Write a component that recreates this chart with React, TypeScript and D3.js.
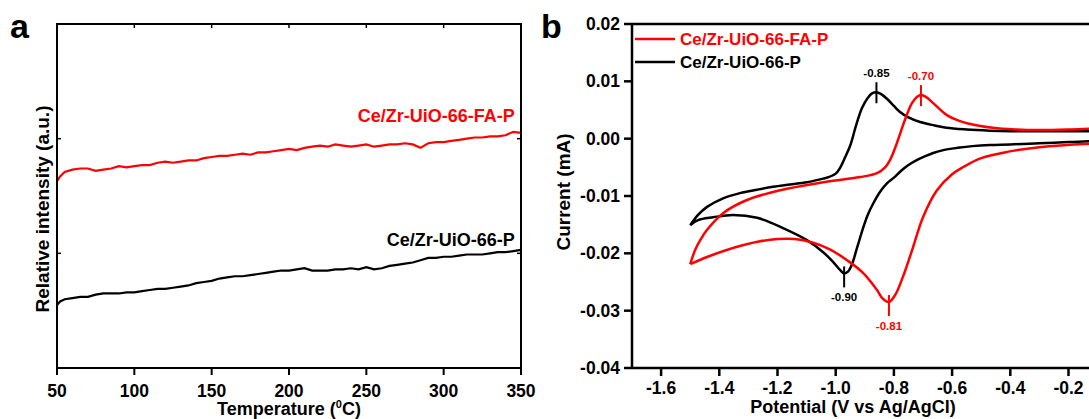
import React, { useEffect } from "react";
import * as d3 from "d3";

// panel a: temperature scan (relative intensity, a.u.)
const temps = [
  50, 52, 55, 60, 65, 70, 75, 80, 85, 90, 95, 100, 105, 110, 115, 120, 125, 130, 135, 140,
  145, 150, 155, 160, 165, 170, 175, 180, 185, 190, 195, 200, 205, 210, 215, 220, 225, 230,
  235, 240, 245, 250, 255, 260, 265, 270, 275, 280, 285, 290, 295, 300, 305, 310, 315, 320,
  325, 330, 335, 340, 345, 350,
];
const faIntensity = [
  1.63, 1.67, 1.71, 1.73, 1.74, 1.74, 1.72, 1.73, 1.74, 1.76, 1.75, 1.76, 1.77, 1.77, 1.79,
  1.8, 1.79, 1.8, 1.81, 1.81, 1.83, 1.84, 1.85, 1.85, 1.86, 1.87, 1.86, 1.88, 1.88, 1.89,
  1.9, 1.91, 1.9, 1.92, 1.93, 1.94, 1.93, 1.95, 1.94, 1.93, 1.94, 1.95, 1.93, 1.94, 1.95,
  1.95, 1.96, 1.95, 1.92, 1.96, 1.97, 1.97, 1.98, 1.99, 2.0, 2.01, 2.01, 2.02, 2.02, 2.03,
  2.06, 2.05,
];
const pIntensity = [
  0.55, 0.58, 0.6, 0.61, 0.62, 0.62, 0.64, 0.65, 0.65, 0.65, 0.66, 0.66, 0.67, 0.68, 0.69,
  0.69, 0.7, 0.71, 0.72, 0.74, 0.75, 0.76, 0.78, 0.79, 0.8, 0.8, 0.81, 0.82, 0.83, 0.84,
  0.85, 0.85, 0.86, 0.87, 0.85, 0.85, 0.85, 0.86, 0.86, 0.87, 0.86, 0.88, 0.86, 0.87, 0.89,
  0.9, 0.91, 0.92, 0.94, 0.96, 0.96, 0.97, 0.97, 0.98, 0.99, 0.99, 0.99, 1.0, 1.01, 1.01,
  1.02, 1.03,
];
const tempTicks = [50, 100, 150, 200, 250, 300, 350];
const intensityTicks = [1, 2];

// panel b: cyclic voltammetry, [potential V, current mA]
const cvP: [number, number][] = [
  [-1.5, -0.0151], [-1.473, -0.0133], [-1.442, -0.0119], [-1.387, -0.0104], [-1.329, -0.0095],
  [-1.27, -0.0089], [-1.215, -0.0084], [-1.157, -0.008], [-1.099, -0.0076], [-1.054, -0.0071],
  [-1.03, -0.0068], [-1.0, -0.0061], [-0.985, -0.0051], [-0.97, -0.0035], [-0.95, -0.0012],
  [-0.93, 0.0023], [-0.91, 0.0053], [-0.89, 0.0071], [-0.875, 0.0079], [-0.86, 0.0081],
  [-0.845, 0.0078], [-0.825, 0.007], [-0.8, 0.0057], [-0.78, 0.0047], [-0.75, 0.0037],
  [-0.71, 0.0029], [-0.66, 0.0023], [-0.62, 0.0019], [-0.55, 0.0016], [-0.47, 0.0014],
  [-0.4, 0.0013], [-0.3, 0.0013], [-0.2, 0.0013], [-0.1, 0.0013], [0.0, 0.0013],
  [0.0, -0.0003], [-0.1, -0.0004], [-0.2, -0.0006], [-0.3, -0.0008], [-0.4, -0.001],
  [-0.47, -0.0011], [-0.53, -0.0013], [-0.58, -0.0016], [-0.63, -0.002], [-0.665, -0.0025],
  [-0.69, -0.003], [-0.72, -0.0037], [-0.75, -0.0046], [-0.775, -0.0056], [-0.8, -0.0068],
  [-0.824, -0.0078], [-0.848, -0.0093], [-0.872, -0.0114], [-0.89, -0.0133], [-0.906, -0.0156],
  [-0.927, -0.0191], [-0.944, -0.0219], [-0.958, -0.0232], [-0.971, -0.0235], [-0.985, -0.0229],
  [-1.009, -0.0215], [-1.043, -0.0198], [-1.099, -0.0177], [-1.181, -0.0156], [-1.27, -0.0138],
  [-1.353, -0.0133], [-1.421, -0.0137], [-1.473, -0.0142], [-1.5, -0.0151],
];
const cvFA: [number, number][] = [
  [-1.5, -0.0219], [-1.483, -0.0194], [-1.462, -0.0174], [-1.442, -0.0159], [-1.387, -0.013],
  [-1.305, -0.0107], [-1.191, -0.009], [-1.054, -0.0077], [-0.916, -0.0067], [-0.858, -0.006],
  [-0.83, -0.005], [-0.813, -0.0037], [-0.795, -0.0015], [-0.779, 0.0008], [-0.762, 0.0033],
  [-0.738, 0.0062], [-0.72, 0.0073], [-0.707, 0.0076], [-0.69, 0.0073], [-0.665, 0.0062],
  [-0.618, 0.0041], [-0.58, 0.0032], [-0.549, 0.0027], [-0.46, 0.0019], [-0.38, 0.0016],
  [-0.3, 0.0015], [-0.2, 0.0016], [-0.1, 0.0018], [0.0, 0.0019],
  [0.0, -0.0007], [-0.13, -0.0009], [-0.3, -0.0015], [-0.41, -0.0023], [-0.5, -0.0034],
  [-0.56, -0.0049], [-0.6, -0.0062], [-0.652, -0.009], [-0.7, -0.0137], [-0.734, -0.0189],
  [-0.769, -0.0241], [-0.795, -0.0272], [-0.817, -0.0285], [-0.84, -0.0278], [-0.858, -0.0264],
  [-0.906, -0.0234], [-0.961, -0.0212], [-1.02, -0.0193], [-1.08, -0.0181], [-1.14, -0.0175],
  [-1.2, -0.0175], [-1.26, -0.0179], [-1.32, -0.0186], [-1.38, -0.0195], [-1.44, -0.0206],
  [-1.5, -0.0219],
];
const potentialTicks = [-1.6, -1.4, -1.2, -1.0, -0.8, -0.6, -0.4, -0.2];
const currentTicks = [0.02, 0.01, 0.0, -0.01, -0.02, -0.03, -0.04];

const seriesNames = ["Ce/Zr-UiO-66-FA-P", "Ce/Zr-UiO-66-P"];
const seriesColors = ["#ff0000", "#000000"];

const peakMarks = [
  { label: "-0.85", v: -0.86, i: 0.0081, s: 1, side: "up" },
  { label: "-0.70", v: -0.707, i: 0.0076, s: 0, side: "up" },
  { label: "-0.90", v: -0.971, i: -0.0235, s: 1, side: "down" },
  { label: "-0.81", v: -0.817, i: -0.0285, s: 0, side: "down" },
];

const FONT = "'Liberation Sans', Arial, Helvetica, sans-serif";

// hyphen-minus like the original figure, not the unicode minus d3 uses
const fix = (s: string) => s.replace("\u2212", "-");

export default function App() {
  useEffect(() => {
    document.body.style.margin = "0";
  }, []);

  const W = 1089;
  const H = 419;

  // panel a scales
  const xA = d3.scaleLinear().domain([50, 350]).range([57, 521]);
  const yA = d3.scaleLinear().domain([0, 3]).range([368, 24]);
  const lineA = d3
    .line<number>()
    .x((_, k) => xA(temps[k]))
    .y((d) => yA(d));

  // panel b scales
  const xB = d3.scaleLinear().domain([-1.7, 0.2]).range([632, 632 + 1.9 * 291]);
  const yB = d3.scaleLinear().domain([-0.04, 0.02]).range([368, 24]);
  const lineB = d3
    .line<[number, number]>()
    .x((d) => xB(d[0]))
    .y((d) => yB(d[1]))
    .curve(d3.curveCatmullRom.alpha(0.5));

  const fmtB = (v: number) => fix(d3.format(".2f")(v === 0 ? 0 : v));
  const fmtX = (v: number) => fix(d3.format(".1f")(v));

  return (
    <svg width={W} height={H} style={{ display: "block", background: "#fff" }} fontFamily={FONT}>
      {/* ---------- panel a ---------- */}
      <text x={10} y={38} fontSize={34} fontWeight="bold">a</text>
      <path d={lineA(pIntensity) || ""} fill="none" stroke={seriesColors[1]} strokeWidth={2.2} />
      <path d={lineA(faIntensity) || ""} fill="none" stroke={seriesColors[0]} strokeWidth={2.2} />
      <text
        x={xA(346)}
        y={yA(faIntensity[faIntensity.length - 1]) - 11}
        textAnchor="end"
        fontSize={18}
        fontWeight="bold"
        fill={seriesColors[0]}
      >
        {seriesNames[0]}
      </text>
      <text
        x={xA(346)}
        y={yA(pIntensity[pIntensity.length - 1]) - 4}
        textAnchor="end"
        fontSize={18}
        fontWeight="bold"
        fill={seriesColors[1]}
      >
        {seriesNames[1]}
      </text>
      <rect x={57} y={24} width={521 - 57} height={368 - 24} fill="none" stroke="#000" strokeWidth={2} />
      {tempTicks.map((t) => (
        <g key={"ta" + t}>
          <line x1={xA(t)} x2={xA(t)} y1={368} y2={375} stroke="#000" strokeWidth={2} />
          <line x1={xA(t)} x2={xA(t)} y1={24} y2={28} stroke="#000" strokeWidth={1.5} />
          <text x={xA(t)} y={397} textAnchor="middle" fontSize={17.5} fontWeight="bold">
            {t}
          </text>
        </g>
      ))}
      {intensityTicks.map((v) => (
        <g key={"ia" + v}>
          <line x1={57} x2={61} y1={yA(v)} y2={yA(v)} stroke="#000" strokeWidth={1.5} />
          <line x1={517} x2={521} y1={yA(v)} y2={yA(v)} stroke="#000" strokeWidth={1.5} />
        </g>
      ))}
      <text x={289} y={415} textAnchor="middle" fontSize={18} fontWeight="bold">
        Temperature (<tspan dy={-7} fontSize={11}>0</tspan>
        <tspan dy={7}>C)</tspan>
      </text>
      <text
        transform={`translate(49,${209}) rotate(-90)`}
        textAnchor="middle"
        fontSize={19}
        fontWeight="bold"
      >
        Relative intensity (a.u.)
      </text>

      {/* ---------- panel b ---------- */}
      <text x={541} y={38} fontSize={34} fontWeight="bold">b</text>
      <path d={lineB(cvP) || ""} fill="none" stroke={seriesColors[1]} strokeWidth={2.5} />
      <path d={lineB(cvFA) || ""} fill="none" stroke={seriesColors[0]} strokeWidth={2.5} />
      {peakMarks.map((p) => {
        const px = xB(p.v);
        const py = yB(p.i);
        const col = seriesColors[p.s];
        const up = p.side === "up";
        return (
          <g key={p.label}>
            <line
              x1={px}
              x2={px}
              y1={up ? py - 10 : py - 7}
              y2={up ? py + 11 : py + 14}
              stroke={col}
              strokeWidth={2}
            />
            <text
              x={px}
              y={up ? py - 15 : py + 28}
              textAnchor="middle"
              fontSize={11.5}
              fontWeight="bold"
              fill={col}
            >
              {p.label}
            </text>
          </g>
        );
      })}
      <line x1={632} x2={W + 5} y1={24} y2={24} stroke="#000" strokeWidth={2.5} />
      <line x1={632} x2={W + 5} y1={368} y2={368} stroke="#000" strokeWidth={2.5} />
      <line x1={632} x2={632} y1={23} y2={369} stroke="#000" strokeWidth={2.5} />
      {potentialTicks.map((v) => (
        <g key={"pb" + v}>
          <line x1={xB(v)} x2={xB(v)} y1={368} y2={376} stroke="#000" strokeWidth={2.5} />
          <text x={xB(v)} y={394} textAnchor="middle" fontSize={17.5} fontWeight="bold">
            {fmtX(v)}
          </text>
        </g>
      ))}
      {currentTicks.map((v) => (
        <g key={"cb" + v}>
          <line x1={624} x2={632} y1={yB(v)} y2={yB(v)} stroke="#000" strokeWidth={2.5} />
          <text x={620} y={yB(v) + 6} textAnchor="end" fontSize={17.5} fontWeight="bold">
            {fmtB(v)}
          </text>
        </g>
      ))}
      <text x={853} y={413} textAnchor="middle" fontSize={18} fontWeight="bold">
        Potential (V vs Ag/AgCl)
      </text>
      <text
        transform={`translate(570,${192}) rotate(-90)`}
        textAnchor="middle"
        fontSize={19}
        fontWeight="bold"
      >
        Current (mA)
      </text>
      {seriesNames.map((name, k) => (
        <g key={name}>
          <line x1={635} x2={675} y1={39 + k * 23} y2={39 + k * 23} stroke={seriesColors[k]} strokeWidth={2.5} />
          <text x={680} y={45 + k * 23} fontSize={17} fontWeight="bold" fill={seriesColors[k]}>
            {name}
          </text>
        </g>
      ))}
    </svg>
  );
}
